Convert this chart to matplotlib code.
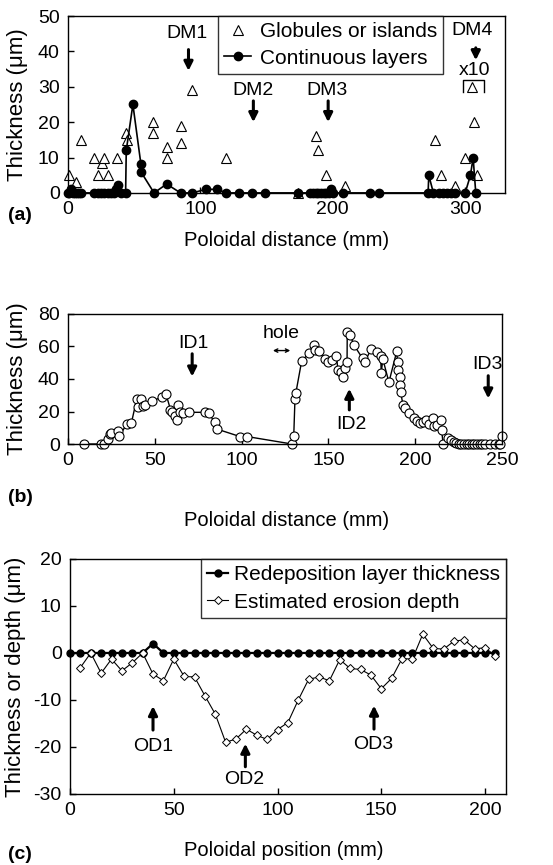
import matplotlib
matplotlib.use('Agg')
import matplotlib.pyplot as plt

plt.rcParams['font.family'] = ['Liberation Sans', 'DejaVu Sans']
plt.rcParams['font.size'] = 14
plt.rcParams['axes.unicode_minus'] = False

# (a) divertor dome
glob_x = [1, 6, 10, 20, 22.5, 26, 27.5, 30.5, 37, 44, 44.5, 64.5, 64.5, 75, 75, 85, 85, 94,
          119.5, 173.5, 187, 189, 195, 209, 277, 282, 292, 300, 305, 307, 309]
glob_y = [5, 3, 15, 10, 5, 8.5, 10, 5, 10, 17, 15, 20, 17, 13, 10, 19, 14, 29,
          10, 0, 16, 12, 5, 2, 15, 5, 2, 10, 30, 20, 5]
cont_x = [0, 1, 2, 3.5, 5, 6.5, 8, 10, 20, 22.5, 25, 27.5, 30, 32.5, 34.5, 36, 37.5, 40, 43.5,
          44, 49, 55, 55, 65, 74.5, 85, 94, 104, 112.5, 119.5, 129.5, 139, 149, 173.5, 183, 185,
          187, 189, 191, 193, 195, 197, 198.5, 200, 208, 228, 235, 272, 272.5, 276, 280, 283,
          286, 289, 292, 300, 304, 306, 308]
cont_y = [0, 0, 1.2, 0, 0, 0, 0, 0, 0, 0, 0, 0, 0, 0, 0, 1, 2.2, 0, 0,
          12, 25, 8.3, 6, 0, 2.5, 0, 0, 1, 1, 0, 0, 0, 0, 0, 0, 0,
          0, 0, 0, 0, 0, 0, 1, 0, 0, 0, 0, 0, 5, 0, 0, 0,
          0, 0, 0, 0, 5, 10, 0]

# (b) inner divertor
inner_x = [9, 19, 21, 23, 24, 25, 28.5, 29.5, 34, 36.5, 39.5, 40.5, 42, 43, 44.5, 48.5, 54, 56.5,
           59, 60, 61.5, 62.5, 63.5, 64.5, 66, 69.5, 79, 81, 84.5, 86, 99, 103, 129, 130, 130.7,
           131.2, 134.6, 139, 141.4, 142.5, 144.6, 148, 149.5, 152, 154.6, 155.4, 157, 158.6,
           159.8, 160.7, 160.8, 162.5, 164.6, 169.6, 171, 174.6, 178.2, 180, 180.4, 181.3, 184.8,
           189.3, 189.8, 189.9, 191, 191.2, 191.6, 192.9, 193.8, 196.4, 199, 201, 202.5, 204.5,
           206.3, 208, 210, 210.7, 212.5, 214.6, 215.2, 216, 218.8, 220.5, 222, 223.5, 225,
           226.5, 228, 229.5, 231, 232.5, 234, 235.5, 237, 238.5, 240, 243, 246, 248, 249, 250]
inner_y = [0, 0, 0, 2.9, 6.2, 6.5, 7.7, 5, 12.4, 12.9, 27.4, 22.8, 28, 23.5, 24.3, 26.3, 29, 30.5,
           21.2, 19.5, 17, 14.5, 24.3, 19.5, 19.1, 19.5, 19.5, 19.1, 13.3, 9.1, 4.6, 4.6, 0, 5.2, 27.6,
           31.4, 51.3, 55.9, 60.7, 58, 57.5, 52, 50.6, 51.5, 54.4, 45.6, 44, 41.4,
           47, 50.2, 69, 67, 61, 52.7, 50.6, 58.6, 56.5, 54.4, 43.9, 52.3, 38,
           57, 50.2, 45.6, 41.4, 36.6, 31.8, 24, 22, 18.8, 15.7, 14.2, 13, 13.6,
           14.6, 12.6, 15.7, 10.9, 12, 14.6, 8.4, 0, 3.8, 2.5, 1.5, 0.5, 0,
           0, 0, 0, 0, 0, 0, 0, 0, 0, 0, 0, 0, 0, 0, 5]

# (c) outer divertor
pos_c = [0, 5, 10, 15, 20, 25, 30, 35, 40, 45, 50, 55, 60, 65, 70, 75, 80, 85, 90, 95, 100,
         105, 110, 115, 120, 125, 130, 135, 140, 145, 150, 155, 160, 165, 170, 175, 180,
         185, 190, 195, 200, 205]
redep = [0, 0, 0, 0, 0, 0, 0, 0, 2, 0, 0, 0, 0, 0, 0, 0, 0, 0, 0, 0, 0,
         0, 0, 0, 0, 0, 0, 0, 0, 0, 0, 0, 0, 0, 0, 0, 0,
         0, 0, 0, 0, 0]
eros_x = pos_c[1:]
eros_y = [-3.1, 0, -4.3, -1.3, -3.8, -2.1, 0, -4.5, -5.9, -1.3, -5, -5.1, -9.1, -13, -19,
          -18.3, -16.2, -17.5, -18.4, -16.3, -14.8, -10, -5.6, -5.1, -5.9, -1.4, -3.3, -3.5,
          -4.7, -7.6, -5.4, -1.2, -1.3, 4, 1, 0.8, 2.5, 2.8, 0.9, 1.1, -0.6]

FS = 14      # ticks, annotations
LFS = 14.5   # x labels
GFS = 15     # legends
YFS = 16     # y labels


def arrow(ax, x, y0, y1):
    ax.annotate('', xy=(x, y1), xytext=(x, y0),
                arrowprops=dict(arrowstyle='-|>', lw=2.2, color='black',
                                shrinkA=0, shrinkB=0, mutation_scale=13))


def style(ax):
    ax.tick_params(direction='in', length=4, width=1, labelsize=FS, pad=6)
    for s in ax.spines.values():
        s.set_linewidth(1.0)


fig = plt.figure(figsize=(5.53, 8.65), dpi=100)

# ---- (a)
ax1 = fig.add_axes([0.123, 0.777, 0.790, 0.2045])
ax1.plot(glob_x, glob_y, linestyle='none', marker='^', ms=6.5, mfc='white', mec='black',
         mew=0.8, clip_on=False, label='Globules or islands')
ax1.plot(cont_x, cont_y, '-', color='black', lw=1.2, marker='o', ms=6, mfc='black',
         clip_on=False, label='Continuous layers')
ax1.set_xlim(0, 330)
ax1.set_ylim(0, 50)
ax1.set_xticks([0, 100, 200, 300])
ax1.set_yticks([0, 10, 20, 30, 40, 50])
ax1.set_ylabel('Thickness (μm)', fontsize=YFS)
ax1.yaxis.set_label_coords(-0.092, 0.5)
style(ax1)
leg = ax1.legend(loc='upper left', bbox_to_anchor=(0.343, 1.0), frameon=True, fancybox=False,
                 edgecolor='black', borderaxespad=0, handlelength=1.3, fontsize=GFS,
                 borderpad=0.3, labelspacing=0.35, handletextpad=0.4)
leg.get_frame().set_linewidth(1.0)
ax1.text(90, 45, 'DM1', ha='center', va='center', fontsize=FS)
arrow(ax1, 91, 40.5, 34.5)
ax1.text(140, 29, 'DM2', ha='center', va='center', fontsize=FS)
arrow(ax1, 140, 26, 20)
ax1.text(196, 29, 'DM3', ha='center', va='center', fontsize=FS)
arrow(ax1, 196.5, 26, 20)
ax1.text(305, 46, 'DM4', ha='center', va='center', fontsize=FS)
arrow(ax1, 308, 41, 37.5)
ax1.text(307, 34.5, 'x10', ha='center', va='center', fontsize=FS)
ax1.plot([298.5, 298.5, 314.5, 314.5], [28.4, 32, 32, 28.4], color='black', lw=1)
fig.text(0.518, 0.7214, 'Poloidal distance (mm)', ha='center', va='center', fontsize=LFS)
fig.text(0.015, 0.7514, '(a)', ha='left', va='center', fontsize=FS, fontweight='bold')

# ---- (b)
ax2 = fig.add_axes([0.123, 0.4867, 0.785, 0.1503])
ax2.plot(inner_x, inner_y, '-', color='black', lw=1.0, marker='o', ms=6.5, mfc='white',
         mec='black', mew=0.8, clip_on=False)
ax2.set_xlim(0, 250)
ax2.set_ylim(0, 80)
ax2.set_xticks([0, 50, 100, 150, 200, 250])
ax2.set_yticks([0, 20, 40, 60, 80])
ax2.set_ylabel('Thickness (μm)', fontsize=YFS)
ax2.yaxis.set_label_coords(-0.092, 0.5)
style(ax2)
ax2.text(72, 62, 'ID1', ha='center', va='center', fontsize=FS)
arrow(ax2, 71.5, 55.5, 41.5)
ax2.text(123, 68, 'hole', ha='center', va='center', fontsize=FS)
ax2.annotate('', xy=(128, 57.5), xytext=(118, 57.5),
             arrowprops=dict(arrowstyle='<->', lw=1, color='black', shrinkA=0, shrinkB=0,
                             mutation_scale=6))
ax2.text(163, 12, 'ID2', ha='center', va='center', fontsize=FS)
arrow(ax2, 162, 21, 34)
ax2.text(241.5, 49, 'ID3', ha='center', va='center', fontsize=FS)
arrow(ax2, 242, 42, 28)
fig.text(0.518, 0.3977, 'Poloidal distance (mm)', ha='center', va='center', fontsize=LFS)
fig.text(0.015, 0.4243, '(b)', ha='left', va='center', fontsize=FS, fontweight='bold')

# ---- (c)
ax3 = fig.add_axes([0.1266, 0.0821, 0.788, 0.2717])
ax3.plot(pos_c, redep, '-', color='black', lw=1.6, marker='o', ms=5, mfc='black',
         clip_on=False, label='Redeposition layer thickness')
ax3.plot(eros_x, eros_y, '-', color='black', lw=0.8, marker='D', ms=4, mfc='white',
         mec='black', mew=0.7, clip_on=False, label='Estimated erosion depth')
ax3.set_xlim(0, 210)
ax3.set_ylim(-30, 20)
ax3.set_xticks([0, 50, 100, 150, 200])
ax3.set_yticks([-30, -20, -10, 0, 10, 20])
ax3.set_ylabel('Thickness or depth (μm)', fontsize=YFS)
ax3.yaxis.set_label_coords(-0.1, 0.5)
style(ax3)
leg3 = ax3.legend(loc='upper right', bbox_to_anchor=(1.0, 1.0), frameon=True, fancybox=False,
                  edgecolor='black', borderaxespad=0, handlelength=1.0, fontsize=GFS,
                  borderpad=0.3, labelspacing=0.4, handletextpad=0.25)
leg3.get_frame().set_linewidth(1.0)
ax3.text(40, -20, 'OD1', ha='center', va='center', fontsize=FS)
arrow(ax3, 40, -16.4, -11.3)
ax3.text(84, -27, 'OD2', ha='center', va='center', fontsize=FS)
arrow(ax3, 84.5, -24.2, -19.3)
ax3.text(146, -19.5, 'OD3', ha='center', va='center', fontsize=FS)
arrow(ax3, 146.5, -16.2, -11.2)
fig.text(0.514, 0.0162, 'Poloidal position (mm)', ha='center', va='center', fontsize=LFS)
fig.text(0.015, 0.012, '(c)', ha='left', va='center', fontsize=FS, fontweight='bold')

fig.savefig('out.png', dpi=100)
